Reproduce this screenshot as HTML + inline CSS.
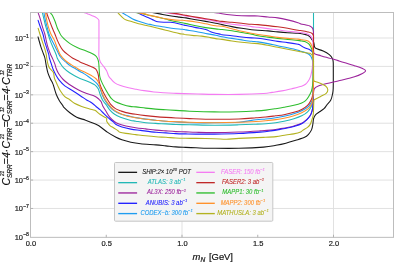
<!DOCTYPE html><html><head><meta charset="utf-8"><title>plot</title><style>
html,body{margin:0;padding:0;background:#fff;}body{width:407px;height:264px;overflow:hidden;}
svg{display:block;will-change:transform;filter:contrast(1);font-family:"Liberation Sans",sans-serif;}
.tk{font-size:7.5px;fill:#1a1a1a;stroke:#1a1a1a;stroke-width:0.18;}.sup{font-size:5.2px;}
.lg{font-size:6.3px;font-style:italic;text-anchor:middle;}.lg .sup{font-size:4.4px;}
.ax{font-size:9.4px;fill:#111;stroke:#111;stroke-width:0.2;}.axs{font-size:6.6px;}
.c{fill:none;stroke-width:1.08;stroke-linejoin:round;stroke-linecap:round;}
</style></head><body>
<svg width="407" height="264" viewBox="0 0 407 264">
<rect width="407" height="264" fill="#fff"/>
<defs><clipPath id="cp"><rect x="30.50" y="12.50" width="363.00" height="224.85"/></clipPath></defs>
<g stroke="#dedede" stroke-width="0.9" fill="none"><line x1="30.50" y1="38.00" x2="393.50" y2="38.00"/><line x1="30.50" y1="66.41" x2="393.50" y2="66.41"/><line x1="30.50" y1="94.82" x2="393.50" y2="94.82"/><line x1="30.50" y1="123.23" x2="393.50" y2="123.23"/><line x1="30.50" y1="151.64" x2="393.50" y2="151.64"/><line x1="30.50" y1="180.05" x2="393.50" y2="180.05"/><line x1="30.50" y1="208.46" x2="393.50" y2="208.46"/><line x1="182.00" y1="12.50" x2="182.00" y2="237.35"/><line x1="333.50" y1="12.50" x2="333.50" y2="237.35"/></g>
<g clip-path="url(#cp)">
<path class="c" stroke="#1a1a1a" d="M38.00,36.90 C38.10,37.25 38.12,37.35 38.60,39.00 C39.08,40.65 40.10,44.35 40.90,46.80 C41.70,49.25 42.73,51.83 43.40,53.70 C44.07,55.57 44.40,55.88 44.90,58.00 C45.40,60.12 45.90,63.93 46.40,66.40 C46.90,68.87 47.25,70.75 47.90,72.80 C48.55,74.85 49.48,76.90 50.30,78.70 C51.12,80.50 52.20,82.23 52.80,83.60 C53.40,84.97 53.30,85.03 53.90,86.90 C54.50,88.77 55.48,92.50 56.40,94.80 C57.32,97.10 58.33,98.90 59.40,100.70 C60.47,102.50 62.05,104.48 62.80,105.60 C63.55,106.72 62.72,106.20 63.90,107.40 C65.08,108.60 67.77,111.17 69.90,112.80 C72.03,114.43 74.08,115.97 76.70,117.20 C79.32,118.43 82.80,119.20 85.60,120.20 C88.40,121.20 91.28,122.27 93.50,123.20 C95.72,124.13 96.53,124.27 98.90,125.80 C101.27,127.33 104.85,130.48 107.70,132.40 C110.55,134.32 113.63,136.07 116.00,137.30 C118.37,138.53 119.43,138.98 121.90,139.80 C124.37,140.62 127.68,141.55 130.80,142.20 C133.92,142.85 136.40,143.25 140.60,143.70 C144.80,144.15 151.78,144.53 156.00,144.90 C160.22,145.27 162.62,145.57 165.90,145.90 C169.18,146.23 172.42,146.65 175.70,146.90 C178.98,147.15 182.22,147.25 185.60,147.40 C188.98,147.55 191.22,147.65 196.00,147.80 C200.78,147.95 207.15,148.22 214.30,148.30 C221.45,148.38 230.70,148.50 238.90,148.30 C247.10,148.10 257.32,147.60 263.50,147.10 C269.68,146.60 272.27,145.95 276.00,145.30 C279.73,144.65 282.62,144.03 285.90,143.20 C289.18,142.37 292.58,141.28 295.70,140.30 C298.82,139.32 302.47,138.30 304.60,137.30 C306.73,136.30 307.35,135.53 308.50,134.30 C309.65,133.07 310.78,131.53 311.50,129.90 C312.22,128.27 312.45,126.37 312.80,124.50 C313.15,122.63 313.15,120.32 313.60,118.70 C314.05,117.08 314.52,115.95 315.50,114.80 C316.48,113.65 318.08,112.83 319.50,111.80 C320.92,110.77 322.77,109.75 324.00,108.60 C325.23,107.45 325.77,106.33 326.90,104.90 C328.03,103.47 329.88,101.72 330.80,100.00 C331.72,98.28 332.00,96.53 332.40,94.60 C332.80,92.67 333.05,92.50 333.20,88.40 C333.35,84.30 333.30,74.40 333.30,70.00 C333.30,65.60 333.35,63.93 333.20,62.00 C333.05,60.07 333.05,59.62 332.40,58.40 C331.75,57.18 330.83,55.92 329.30,54.70 C327.77,53.48 325.47,52.17 323.20,51.10 C320.93,50.03 317.17,49.12 315.70,48.30 C314.23,47.48 314.67,46.92 314.40,46.20 C314.13,45.48 314.28,44.78 314.10,44.00 C313.92,43.22 313.68,42.25 313.30,41.50 C312.92,40.75 312.30,40.22 311.80,39.50 C311.30,38.78 310.97,37.92 310.30,37.20 C309.63,36.48 308.87,35.70 307.80,35.20 C306.73,34.70 305.53,34.53 303.90,34.20 C302.27,33.87 300.72,33.45 298.00,33.20 C295.28,32.95 290.98,32.92 287.60,32.70 C284.22,32.48 280.98,32.20 277.70,31.90 C274.42,31.60 271.18,31.17 267.90,30.90 C264.62,30.63 260.72,30.50 258.00,30.30 C255.28,30.10 254.32,30.03 251.60,29.70 C248.88,29.37 244.98,28.82 241.70,28.30 C238.42,27.78 235.18,27.22 231.90,26.60 C228.62,25.98 224.72,25.15 222.00,24.60 C219.28,24.05 218.32,23.83 215.60,23.30 C212.88,22.77 208.98,22.00 205.70,21.40 C202.42,20.80 199.18,20.28 195.90,19.70 C192.62,19.12 188.72,18.33 186.00,17.90 C183.28,17.47 182.32,17.47 179.60,17.10 C176.88,16.73 172.98,16.23 169.70,15.70 C166.42,15.17 163.02,14.48 159.90,13.90 C156.78,13.32 154.32,12.82 151.00,12.20 C147.68,11.58 141.83,10.53 140.00,10.20"/>
<path class="c" stroke="#22b8b6" d="M41.90,8.00 C41.98,8.75 42.07,10.68 42.40,12.50 C42.73,14.32 43.33,16.53 43.90,18.90 C44.47,21.27 45.10,24.18 45.80,26.70 C46.50,29.22 47.35,31.63 48.10,34.00 C48.85,36.37 49.45,38.60 50.30,40.90 C51.15,43.20 52.22,45.50 53.20,47.80 C54.18,50.10 55.53,53.00 56.20,54.70 C56.87,56.40 56.62,56.72 57.20,58.00 C57.78,59.28 58.63,60.75 59.70,62.40 C60.77,64.05 61.95,66.17 63.60,67.90 C65.25,69.63 67.62,71.42 69.60,72.80 C71.58,74.18 73.77,75.27 75.50,76.20 C77.23,77.13 77.93,77.53 80.00,78.40 C82.07,79.27 85.43,80.32 87.90,81.40 C90.37,82.48 93.08,83.67 94.80,84.90 C96.52,86.13 97.30,87.17 98.20,88.80 C99.10,90.43 99.45,92.78 100.20,94.70 C100.95,96.62 101.68,98.60 102.70,100.30 C103.72,102.00 105.13,103.30 106.30,104.90 C107.47,106.50 108.32,108.33 109.70,109.90 C111.08,111.47 112.80,113.08 114.60,114.30 C116.40,115.52 117.93,116.22 120.50,117.20 C123.07,118.18 127.43,119.53 130.00,120.20 C132.57,120.87 133.28,120.78 135.90,121.20 C138.52,121.62 142.42,122.33 145.70,122.70 C148.98,123.07 152.22,123.20 155.60,123.40 C158.98,123.60 162.62,123.72 166.00,123.90 C169.38,124.08 171.97,124.37 175.90,124.50 C179.83,124.63 183.20,124.58 189.60,124.70 C196.00,124.82 206.08,125.18 214.30,125.20 C222.52,125.22 231.95,124.97 238.90,124.80 C245.85,124.63 251.50,124.38 256.00,124.20 C260.50,124.02 262.62,123.95 265.90,123.70 C269.18,123.45 272.68,123.12 275.70,122.70 C278.72,122.28 280.97,121.87 284.00,121.20 C287.03,120.53 290.95,119.60 293.90,118.70 C296.85,117.80 299.42,116.95 301.70,115.80 C303.98,114.65 306.03,113.28 307.60,111.80 C309.17,110.32 310.27,108.53 311.10,106.90 C311.93,105.27 312.27,103.48 312.60,102.00 C312.93,100.52 312.97,100.00 313.10,98.00 C313.23,96.00 313.33,98.00 313.40,90.00 C313.47,82.00 313.48,64.17 313.50,50.00 C313.52,35.83 313.50,12.50 313.50,5.00"/>
<path class="c" stroke="#9c249c" d="M37.60,8.00 C37.68,8.75 37.72,10.85 38.10,12.50 C38.48,14.15 39.18,15.53 39.90,17.90 C40.62,20.27 41.58,24.02 42.40,26.70 C43.22,29.38 44.15,31.63 44.80,34.00 C45.45,36.37 45.80,38.77 46.30,40.90 C46.80,43.03 47.13,44.67 47.80,46.80 C48.47,48.93 49.55,51.83 50.30,53.70 C51.05,55.57 51.55,56.30 52.30,58.00 C53.05,59.70 54.13,62.10 54.80,63.90 C55.47,65.70 55.65,67.15 56.30,68.80 C56.95,70.45 57.55,72.02 58.70,73.80 C59.85,75.58 61.48,77.77 63.20,79.50 C64.92,81.23 66.43,82.47 69.00,84.20 C71.57,85.93 75.65,88.35 78.60,89.90 C81.55,91.45 84.00,92.45 86.70,93.50 C89.40,94.55 92.75,95.23 94.80,96.20 C96.85,97.17 97.93,98.37 99.00,99.30 C100.07,100.23 100.57,100.70 101.20,101.80 C101.83,102.90 101.95,104.23 102.80,105.90 C103.65,107.57 105.15,109.92 106.30,111.80 C107.45,113.68 108.32,115.55 109.70,117.20 C111.08,118.85 113.05,120.57 114.60,121.70 C116.15,122.83 117.12,123.28 119.00,124.00 C120.88,124.72 123.12,125.38 125.90,126.00 C128.68,126.62 132.42,127.22 135.70,127.70 C138.98,128.18 142.22,128.50 145.60,128.90 C148.98,129.30 152.62,129.77 156.00,130.10 C159.38,130.43 162.62,130.65 165.90,130.90 C169.18,131.15 172.42,131.43 175.70,131.60 C178.98,131.77 182.22,131.78 185.60,131.90 C188.98,132.02 191.22,132.18 196.00,132.30 C200.78,132.42 207.15,132.65 214.30,132.60 C221.45,132.55 231.28,132.28 238.90,132.00 C246.52,131.72 254.68,131.22 260.00,130.90 C265.32,130.58 267.37,130.48 270.80,130.10 C274.23,129.72 277.65,129.08 280.60,128.60 C283.55,128.12 286.28,127.65 288.50,127.20 C290.72,126.75 291.70,126.55 293.90,125.90 C296.10,125.25 299.57,124.35 301.70,123.30 C303.83,122.25 305.30,120.85 306.70,119.60 C308.10,118.35 309.20,117.27 310.10,115.80 C311.00,114.33 311.63,112.45 312.10,110.80 C312.57,109.15 312.70,108.03 312.90,105.90 C313.10,103.77 313.18,100.30 313.30,98.00 C313.42,95.70 313.38,93.70 313.60,92.10 C313.82,90.50 313.82,89.42 314.60,88.40 C315.38,87.38 316.25,86.82 318.30,86.00 C320.35,85.18 323.32,84.42 326.90,83.50 C330.48,82.58 335.20,81.62 339.80,80.50 C344.40,79.38 350.82,77.92 354.50,76.80 C358.18,75.68 360.05,74.80 361.90,73.80 C363.75,72.80 365.60,71.72 365.60,70.80 C365.60,69.88 363.75,69.15 361.90,68.30 C360.05,67.45 358.18,66.88 354.50,65.70 C350.82,64.52 343.38,62.32 339.80,61.20 C336.22,60.08 335.47,59.68 333.00,59.00 C330.53,58.32 327.05,57.65 325.00,57.10 C322.95,56.55 322.37,56.23 320.70,55.70 C319.03,55.17 316.17,54.43 315.00,53.90 C313.83,53.37 313.95,53.48 313.70,52.50 C313.45,51.52 313.53,51.13 313.50,48.00 C313.47,44.87 313.55,36.65 313.50,33.70 C313.45,30.75 313.40,31.28 313.20,30.30 C313.00,29.32 312.87,28.52 312.30,27.80 C311.73,27.08 310.87,26.47 309.80,26.00 C308.73,25.53 307.38,25.35 305.90,25.00 C304.42,24.65 302.22,24.28 300.90,23.90 C299.58,23.52 300.22,23.37 298.00,22.70 C295.78,22.03 290.98,20.70 287.60,19.90 C284.22,19.10 280.98,18.38 277.70,17.90 C274.42,17.42 271.18,17.32 267.90,17.00 C264.62,16.68 260.72,16.18 258.00,16.00 C255.28,15.82 254.32,15.95 251.60,15.90 C248.88,15.85 244.98,15.85 241.70,15.70 C238.42,15.55 235.18,15.32 231.90,15.00 C228.62,14.68 224.23,14.13 222.00,13.80 C219.77,13.47 220.15,13.27 218.50,13.00 C216.85,12.73 214.35,12.53 212.10,12.20 C209.85,11.87 206.18,11.20 205.00,11.00"/>
<path class="c" stroke="#2222ff" d="M38.10,20.30 C38.40,21.22 39.10,23.52 39.90,25.80 C40.70,28.08 42.08,31.32 42.90,34.00 C43.72,36.68 44.07,39.27 44.80,41.90 C45.53,44.53 46.63,47.67 47.30,49.80 C47.97,51.93 48.45,53.33 48.80,54.70 C49.15,56.07 48.98,56.47 49.40,58.00 C49.82,59.53 50.65,61.93 51.30,63.90 C51.95,65.87 52.47,67.83 53.30,69.80 C54.13,71.77 55.28,73.93 56.30,75.70 C57.32,77.47 57.98,78.70 59.40,80.40 C60.82,82.10 62.58,84.17 64.80,85.90 C67.02,87.63 70.12,89.17 72.70,90.80 C75.28,92.43 77.98,94.17 80.30,95.70 C82.62,97.23 84.98,98.98 86.60,100.00 C88.22,101.02 88.85,101.08 90.00,101.80 C91.15,102.52 92.50,103.52 93.50,104.30 C94.50,105.08 94.92,105.60 96.00,106.50 C97.08,107.40 98.87,108.70 100.00,109.70 C101.13,110.70 101.35,111.08 102.80,112.50 C104.25,113.92 106.90,116.58 108.70,118.20 C110.50,119.82 112.38,121.15 113.60,122.20 C114.82,123.25 114.62,123.70 116.00,124.50 C117.38,125.30 119.43,126.23 121.90,127.00 C124.37,127.77 127.68,128.53 130.80,129.10 C133.92,129.67 136.40,129.87 140.60,130.40 C144.80,130.93 151.78,131.88 156.00,132.30 C160.22,132.72 162.62,132.68 165.90,132.90 C169.18,133.12 172.42,133.43 175.70,133.60 C178.98,133.77 182.22,133.82 185.60,133.90 C188.98,133.98 191.22,134.07 196.00,134.10 C200.78,134.13 207.15,134.20 214.30,134.10 C221.45,134.00 231.28,133.83 238.90,133.50 C246.52,133.17 254.68,132.53 260.00,132.10 C265.32,131.67 267.37,131.37 270.80,130.90 C274.23,130.43 277.65,129.82 280.60,129.30 C283.55,128.78 286.28,128.27 288.50,127.80 C290.72,127.33 291.70,127.18 293.90,126.50 C296.10,125.82 299.57,124.82 301.70,123.70 C303.83,122.58 305.30,121.12 306.70,119.80 C308.10,118.48 309.20,117.30 310.10,115.80 C311.00,114.30 311.63,112.45 312.10,110.80 C312.57,109.15 312.70,107.70 312.90,105.90 C313.10,104.10 313.22,104.32 313.30,100.00 C313.38,95.68 313.38,87.00 313.40,80.00 C313.42,73.00 313.42,62.00 313.40,58.00 C313.38,54.00 313.38,56.70 313.30,56.00 C313.22,55.30 313.07,54.50 312.90,53.80 C312.73,53.10 312.82,52.47 312.30,51.80 C311.78,51.13 310.87,50.38 309.80,49.80 C308.73,49.22 307.05,48.78 305.90,48.30 C304.75,47.82 303.90,47.47 302.90,46.90 C301.90,46.33 300.72,45.33 299.90,44.90 C299.08,44.47 300.05,44.68 298.00,44.30 C295.95,43.92 290.98,43.08 287.60,42.60 C284.22,42.12 280.98,41.88 277.70,41.40 C274.42,40.92 271.18,40.22 267.90,39.70 C264.62,39.18 260.72,38.60 258.00,38.30 C255.28,38.00 254.32,38.12 251.60,37.90 C248.88,37.68 244.98,37.35 241.70,37.00 C238.42,36.65 235.18,36.18 231.90,35.80 C228.62,35.42 223.90,34.97 222.00,34.70 C220.10,34.43 221.57,34.45 220.50,34.20 C219.43,33.95 217.25,33.62 215.60,33.20 C213.95,32.78 212.25,32.32 210.60,31.70 C208.95,31.08 208.15,30.18 205.70,29.50 C203.25,28.82 199.18,28.27 195.90,27.60 C192.62,26.93 188.23,25.97 186.00,25.50 C183.77,25.03 184.40,25.25 182.50,24.80 C180.60,24.35 176.73,23.22 174.60,22.80 C172.47,22.38 171.50,22.38 169.70,22.30 C167.90,22.22 165.77,22.38 163.80,22.30 C161.83,22.22 159.55,22.13 157.90,21.80 C156.25,21.47 155.22,20.87 153.90,20.30 C152.58,19.73 151.40,19.05 150.00,18.40 C148.60,17.75 147.32,17.23 145.50,16.40 C143.68,15.57 140.48,14.10 139.10,13.40 C137.72,12.70 138.05,12.77 137.20,12.20 C136.35,11.63 134.53,10.37 134.00,10.00"/>
<path class="c" stroke="#1e9cf0" d="M43.40,8.00 C43.48,8.75 43.58,10.52 43.90,12.50 C44.22,14.48 44.73,17.37 45.30,19.90 C45.87,22.43 46.68,25.35 47.30,27.70 C47.92,30.05 48.27,31.97 49.00,34.00 C49.73,36.03 50.67,37.77 51.70,39.90 C52.73,42.03 54.05,44.50 55.20,46.80 C56.35,49.10 57.80,52.13 58.60,53.70 C59.40,55.27 59.35,55.28 60.00,56.20 C60.65,57.12 61.57,58.25 62.50,59.20 C63.43,60.15 64.27,60.78 65.60,61.90 C66.93,63.02 68.85,64.75 70.50,65.90 C72.15,67.05 73.92,67.87 75.50,68.80 C77.08,69.73 78.60,70.70 80.00,71.50 C81.40,72.30 82.67,72.87 83.90,73.60 C85.13,74.33 85.92,74.85 87.40,75.90 C88.88,76.95 91.17,78.57 92.80,79.90 C94.43,81.23 96.05,82.58 97.20,83.90 C98.35,85.22 98.87,86.00 99.70,87.80 C100.53,89.60 101.33,92.62 102.20,94.70 C103.07,96.78 103.90,98.60 104.90,100.30 C105.90,102.00 106.98,103.38 108.20,104.90 C109.42,106.42 110.63,108.08 112.20,109.40 C113.77,110.72 115.72,111.90 117.60,112.80 C119.48,113.70 121.43,114.22 123.50,114.80 C125.57,115.38 127.93,115.83 130.00,116.30 C132.07,116.77 133.28,117.13 135.90,117.60 C138.52,118.07 142.42,118.67 145.70,119.10 C148.98,119.53 152.22,119.83 155.60,120.20 C158.98,120.57 162.62,121.02 166.00,121.30 C169.38,121.58 171.97,121.67 175.90,121.90 C179.83,122.13 183.20,122.55 189.60,122.70 C196.00,122.85 206.08,122.88 214.30,122.80 C222.52,122.72 231.95,122.70 238.90,122.20 C245.85,121.70 251.50,120.33 256.00,119.80 C260.50,119.27 262.62,119.33 265.90,119.00 C269.18,118.67 272.68,118.25 275.70,117.80 C278.72,117.35 280.97,116.97 284.00,116.30 C287.03,115.63 290.95,114.72 293.90,113.80 C296.85,112.88 299.25,112.03 301.70,110.80 C304.15,109.57 306.87,108.12 308.60,106.40 C310.33,104.68 311.38,102.57 312.10,100.50 C312.82,98.43 312.72,96.58 312.90,94.00 C313.08,91.42 313.15,89.67 313.20,85.00 C313.25,80.33 313.25,69.83 313.20,66.00 C313.15,62.17 313.05,63.05 312.90,62.00 C312.75,60.95 312.65,60.67 312.30,59.70 C311.95,58.73 311.38,57.10 310.80,56.20 C310.22,55.30 309.62,54.87 308.80,54.30 C307.98,53.73 307.22,53.30 305.90,52.80 C304.58,52.30 302.22,51.73 300.90,51.30 C299.58,50.87 300.22,50.78 298.00,50.20 C295.78,49.62 290.98,48.53 287.60,47.80 C284.22,47.07 280.98,46.50 277.70,45.80 C274.42,45.10 271.18,44.25 267.90,43.60 C264.62,42.95 260.72,42.28 258.00,41.90 C255.28,41.52 254.32,41.63 251.60,41.30 C248.88,40.97 244.98,40.38 241.70,39.90 C238.42,39.42 235.18,38.93 231.90,38.40 C228.62,37.87 224.72,37.23 222.00,36.70 C219.28,36.17 218.32,35.73 215.60,35.20 C212.88,34.67 208.98,34.12 205.70,33.50 C202.42,32.88 199.18,32.10 195.90,31.50 C192.62,30.90 188.23,30.28 186.00,29.90 C183.77,29.52 184.57,29.43 182.50,29.20 C180.43,28.97 176.38,28.83 173.60,28.50 C170.82,28.17 168.42,27.62 165.80,27.20 C163.18,26.78 160.53,26.47 157.90,26.00 C155.27,25.53 151.90,24.77 150.00,24.40 C148.10,24.03 148.40,24.32 146.50,23.80 C144.60,23.28 140.90,22.12 138.60,21.30 C136.30,20.48 134.67,19.88 132.70,18.90 C130.73,17.92 128.68,16.52 126.80,15.40 C124.92,14.28 122.87,13.13 121.40,12.20 C119.93,11.27 118.57,10.20 118.00,9.80"/>
<path class="c" stroke="#f47cf2" d="M78.00,10.00 C78.90,10.37 81.77,11.55 83.40,12.20 C85.03,12.85 86.25,13.28 87.80,13.90 C89.35,14.52 91.22,15.23 92.70,15.90 C94.18,16.57 95.70,17.23 96.70,17.90 C97.70,18.57 98.33,19.08 98.70,19.90 C99.08,20.72 98.91,20.12 98.95,22.80 C98.99,25.48 98.96,31.47 98.95,36.00 C98.94,40.53 98.91,46.68 98.90,50.00 C98.89,53.32 98.68,53.93 98.90,55.90 C99.12,57.87 99.42,60.07 100.20,61.80 C100.98,63.53 102.53,64.82 103.60,66.30 C104.67,67.78 105.77,69.10 106.60,70.70 C107.43,72.30 107.88,74.53 108.60,75.90 C109.32,77.27 109.87,77.73 110.90,78.90 C111.93,80.07 113.32,81.83 114.80,82.90 C116.28,83.97 117.50,84.48 119.80,85.30 C122.10,86.12 125.82,87.13 128.60,87.80 C131.38,88.47 133.93,88.83 136.50,89.30 C139.07,89.77 141.10,90.15 144.00,90.60 C146.90,91.05 150.62,91.63 153.90,92.00 C157.18,92.37 160.42,92.58 163.70,92.80 C166.98,93.02 170.22,93.17 173.60,93.30 C176.98,93.43 179.93,93.48 184.00,93.60 C188.07,93.72 192.95,93.87 198.00,94.00 C203.05,94.13 207.48,94.33 214.30,94.40 C221.12,94.47 230.70,94.55 238.90,94.40 C247.10,94.25 257.98,93.83 263.50,93.50 C269.02,93.17 268.93,92.83 272.00,92.40 C275.07,91.97 278.62,91.52 281.90,90.90 C285.18,90.28 288.42,89.48 291.70,88.70 C294.98,87.92 299.30,86.93 301.60,86.20 C303.90,85.47 304.35,85.20 305.50,84.30 C306.65,83.40 307.68,82.03 308.50,80.80 C309.32,79.57 309.92,78.22 310.40,76.90 C310.88,75.58 311.08,74.38 311.40,72.90 C311.72,71.42 312.07,70.15 312.30,68.00 C312.53,65.85 312.67,62.67 312.80,60.00 C312.93,57.33 313.07,54.92 313.10,52.00 C313.13,49.08 313.08,44.53 313.00,42.50 C312.92,40.47 312.80,40.62 312.60,39.80 C312.40,38.98 312.27,38.37 311.80,37.60 C311.33,36.83 310.63,35.85 309.80,35.20 C308.97,34.55 308.12,34.12 306.80,33.70 C305.48,33.28 303.37,32.95 301.90,32.70 C300.43,32.45 300.38,32.45 298.00,32.20 C295.62,31.95 290.98,31.60 287.60,31.20 C284.22,30.80 280.98,30.23 277.70,29.80 C274.42,29.37 271.18,29.02 267.90,28.60 C264.62,28.18 260.72,27.63 258.00,27.30 C255.28,26.97 254.32,26.93 251.60,26.60 C248.88,26.27 244.98,25.68 241.70,25.30 C238.42,24.92 235.18,24.72 231.90,24.30 C228.62,23.88 224.72,23.28 222.00,22.80 C219.28,22.32 218.32,21.97 215.60,21.40 C212.88,20.83 208.98,20.02 205.70,19.40 C202.42,18.78 199.18,18.27 195.90,17.70 C192.62,17.13 188.23,16.40 186.00,16.00 C183.77,15.60 184.40,15.63 182.50,15.30 C180.60,14.97 177.38,14.43 174.60,14.00 C171.82,13.57 169.07,13.17 165.80,12.70 C162.53,12.23 156.80,11.45 155.00,11.20"/>
<path class="c" stroke="#c02828" d="M46.10,8.00 C46.18,8.75 46.15,10.68 46.60,12.50 C47.05,14.32 47.87,16.37 48.80,18.90 C49.73,21.43 51.18,25.18 52.20,27.70 C53.22,30.22 54.00,31.80 54.90,34.00 C55.80,36.20 56.75,38.95 57.60,40.90 C58.45,42.85 59.10,44.13 60.00,45.70 C60.90,47.27 61.68,48.80 63.00,50.30 C64.32,51.80 66.27,53.38 67.90,54.70 C69.53,56.02 71.00,57.13 72.80,58.20 C74.60,59.27 77.50,60.47 78.70,61.10 C79.90,61.73 78.63,61.38 80.00,62.00 C81.37,62.62 84.77,63.93 86.90,64.80 C89.03,65.67 91.32,66.47 92.80,67.20 C94.28,67.93 94.98,68.28 95.80,69.20 C96.62,70.12 97.25,71.57 97.70,72.70 C98.15,73.83 98.25,74.47 98.50,76.00 C98.75,77.53 98.75,79.93 99.20,81.90 C99.65,83.87 100.30,85.67 101.20,87.80 C102.10,89.93 103.48,92.62 104.60,94.70 C105.72,96.78 106.88,98.68 107.90,100.30 C108.92,101.92 109.50,103.05 110.70,104.40 C111.90,105.75 113.47,107.33 115.10,108.40 C116.73,109.47 118.68,110.10 120.50,110.80 C122.32,111.50 123.43,112.02 126.00,112.60 C128.57,113.18 132.62,113.80 135.90,114.30 C139.18,114.80 142.42,115.22 145.70,115.60 C148.98,115.98 152.22,116.30 155.60,116.60 C158.98,116.90 162.62,117.17 166.00,117.40 C169.38,117.63 171.97,117.80 175.90,118.00 C179.83,118.20 183.20,118.38 189.60,118.60 C196.00,118.82 206.08,119.23 214.30,119.30 C222.52,119.37 231.95,119.25 238.90,119.00 C245.85,118.75 251.50,118.13 256.00,117.80 C260.50,117.47 262.62,117.33 265.90,117.00 C269.18,116.67 272.68,116.18 275.70,115.80 C278.72,115.42 280.97,115.28 284.00,114.70 C287.03,114.12 290.95,113.18 293.90,112.30 C296.85,111.42 299.42,110.55 301.70,109.40 C303.98,108.25 306.03,106.97 307.60,105.40 C309.17,103.83 310.25,101.73 311.10,100.00 C311.95,98.27 312.33,96.67 312.70,95.00 C313.07,93.33 313.17,95.83 313.30,90.00 C313.43,84.17 313.47,68.73 313.50,60.00 C313.53,51.27 313.55,41.73 313.50,37.60 C313.45,33.47 313.48,35.93 313.20,35.20 C312.92,34.47 312.70,33.75 311.80,33.20 C310.90,32.65 309.45,32.32 307.80,31.90 C306.15,31.48 303.53,30.97 301.90,30.70 C300.27,30.43 300.38,30.70 298.00,30.30 C295.62,29.90 290.98,28.88 287.60,28.30 C284.22,27.72 280.98,27.25 277.70,26.80 C274.42,26.35 271.18,25.97 267.90,25.60 C264.62,25.23 260.72,24.82 258.00,24.60 C255.28,24.38 254.32,24.52 251.60,24.30 C248.88,24.08 244.98,23.63 241.70,23.30 C238.42,22.97 235.18,22.62 231.90,22.30 C228.62,21.98 224.72,21.72 222.00,21.40 C219.28,21.08 218.32,20.85 215.60,20.40 C212.88,19.95 208.98,19.25 205.70,18.70 C202.42,18.15 199.18,17.65 195.90,17.10 C192.62,16.55 188.23,15.80 186.00,15.40 C183.77,15.00 184.40,15.03 182.50,14.70 C180.60,14.37 177.38,13.82 174.60,13.40 C171.82,12.98 169.07,12.65 165.80,12.20 C162.53,11.75 156.80,10.95 155.00,10.70"/>
<path class="c" stroke="#2dbd2d" d="M49.80,8.00 C49.88,8.75 49.82,11.18 50.30,12.50 C50.78,13.82 51.88,14.35 52.70,15.90 C53.52,17.45 54.45,19.83 55.20,21.80 C55.95,23.77 56.47,25.88 57.20,27.70 C57.93,29.52 58.92,31.35 59.60,32.70 C60.28,34.05 60.52,34.75 61.30,35.80 C62.08,36.85 62.85,37.70 64.30,39.00 C65.75,40.30 67.77,42.13 70.00,43.60 C72.23,45.07 75.10,46.60 77.70,47.80 C80.30,49.00 83.30,49.90 85.60,50.80 C87.90,51.70 89.85,52.38 91.50,53.20 C93.15,54.02 94.47,54.75 95.50,55.70 C96.53,56.65 97.17,57.72 97.70,58.90 C98.23,60.08 98.45,61.00 98.70,62.80 C98.95,64.60 99.03,67.50 99.20,69.70 C99.37,71.90 99.37,74.13 99.70,76.00 C100.03,77.87 100.38,78.93 101.20,80.90 C102.02,82.87 103.45,85.67 104.60,87.80 C105.75,89.93 106.95,91.88 108.10,93.70 C109.25,95.52 110.27,97.35 111.50,98.70 C112.73,100.05 113.67,100.85 115.50,101.80 C117.33,102.75 120.08,103.63 122.50,104.40 C124.92,105.17 127.77,105.98 130.00,106.40 C132.23,106.82 133.28,106.62 135.90,106.90 C138.52,107.18 142.42,107.73 145.70,108.10 C148.98,108.47 152.22,108.82 155.60,109.10 C158.98,109.38 162.62,109.58 166.00,109.80 C169.38,110.02 171.97,110.17 175.90,110.40 C179.83,110.63 183.20,110.95 189.60,111.20 C196.00,111.45 206.08,111.82 214.30,111.90 C222.52,111.98 231.95,111.87 238.90,111.70 C245.85,111.53 251.50,111.17 256.00,110.90 C260.50,110.63 262.62,110.47 265.90,110.10 C269.18,109.73 272.68,109.17 275.70,108.70 C278.72,108.23 280.97,107.87 284.00,107.30 C287.03,106.73 290.95,106.03 293.90,105.30 C296.85,104.57 299.75,103.68 301.70,102.90 C303.65,102.12 304.48,101.58 305.60,100.60 C306.72,99.62 307.42,98.62 308.40,97.00 C309.38,95.38 310.77,93.15 311.50,90.90 C312.23,88.65 312.52,85.98 312.80,83.50 C313.08,81.02 313.13,80.25 313.20,76.00 C313.27,71.75 313.25,61.67 313.20,58.00 C313.15,54.33 313.05,55.20 312.90,54.00 C312.75,52.80 312.65,51.98 312.30,50.80 C311.95,49.62 311.38,48.05 310.80,46.90 C310.22,45.75 309.62,44.73 308.80,43.90 C307.98,43.07 307.05,42.38 305.90,41.90 C304.75,41.42 303.22,41.23 301.90,41.00 C300.58,40.77 300.38,40.77 298.00,40.50 C295.62,40.23 290.98,39.75 287.60,39.40 C284.22,39.05 280.98,38.77 277.70,38.40 C274.42,38.02 271.18,37.58 267.90,37.15 C264.62,36.72 260.72,36.30 258.00,35.80 C255.28,35.30 254.32,34.70 251.60,34.15 C248.88,33.60 244.98,33.07 241.70,32.50 C238.42,31.93 235.18,31.25 231.90,30.75 C228.62,30.25 224.72,29.81 222.00,29.50 C219.28,29.19 218.32,29.22 215.60,28.90 C212.88,28.58 208.98,28.12 205.70,27.60 C202.42,27.08 199.18,26.47 195.90,25.80 C192.62,25.13 188.72,24.18 186.00,23.60 C183.28,23.02 181.98,22.77 179.60,22.30 C177.22,21.83 174.00,21.33 171.70,20.80 C169.40,20.27 168.10,19.70 165.80,19.10 C163.50,18.50 160.53,17.80 157.90,17.20 C155.27,16.60 152.23,16.02 150.00,15.50 C147.77,14.98 146.33,14.52 144.50,14.10 C142.67,13.68 140.72,13.32 139.00,13.00 C137.28,12.68 136.03,12.57 134.20,12.20 C132.37,11.83 129.03,11.03 128.00,10.80"/>
<path class="c" stroke="#ff922c" d="M45.00,8.00 C45.08,8.75 45.28,10.85 45.50,12.50 C45.72,14.15 45.83,15.53 46.30,17.90 C46.77,20.27 47.53,24.02 48.30,26.70 C49.07,29.38 49.92,31.80 50.90,34.00 C51.88,36.20 53.15,37.60 54.20,39.90 C55.25,42.20 56.23,45.40 57.20,47.80 C58.17,50.20 59.03,52.57 60.00,54.30 C60.97,56.03 61.92,57.00 63.00,58.20 C64.08,59.40 65.08,60.38 66.50,61.50 C67.92,62.62 69.83,63.83 71.50,64.90 C73.17,65.97 75.08,67.05 76.50,67.90 C77.92,68.75 78.43,69.20 80.00,70.00 C81.57,70.80 83.93,71.73 85.90,72.70 C87.87,73.67 90.07,74.75 91.80,75.80 C93.53,76.85 95.15,77.82 96.30,79.00 C97.45,80.18 97.97,81.27 98.70,82.90 C99.43,84.53 99.95,86.67 100.70,88.80 C101.45,90.93 102.33,93.75 103.20,95.70 C104.07,97.65 104.98,99.05 105.90,100.50 C106.82,101.95 107.57,103.00 108.70,104.40 C109.83,105.80 111.05,107.50 112.70,108.90 C114.35,110.30 116.63,111.73 118.60,112.80 C120.57,113.87 122.60,114.65 124.50,115.30 C126.40,115.95 128.10,116.30 130.00,116.70 C131.90,117.10 133.28,117.28 135.90,117.70 C138.52,118.12 142.42,118.78 145.70,119.20 C148.98,119.62 152.22,119.87 155.60,120.20 C158.98,120.53 162.62,120.95 166.00,121.20 C169.38,121.45 171.97,121.52 175.90,121.70 C179.83,121.88 183.20,122.13 189.60,122.30 C196.00,122.47 206.08,122.70 214.30,122.70 C222.52,122.70 231.95,122.50 238.90,122.30 C245.85,122.10 251.50,121.77 256.00,121.50 C260.50,121.23 262.62,121.02 265.90,120.70 C269.18,120.38 272.68,120.02 275.70,119.60 C278.72,119.18 280.97,118.83 284.00,118.20 C287.03,117.57 290.95,116.70 293.90,115.80 C296.85,114.90 299.25,114.03 301.70,112.80 C304.15,111.57 306.95,109.88 308.60,108.40 C310.25,106.92 310.93,105.30 311.60,103.90 C312.27,102.50 312.33,101.65 312.60,100.00 C312.87,98.35 313.07,97.33 313.20,94.00 C313.33,90.67 313.37,86.00 313.40,80.00 C313.43,74.00 313.43,62.42 313.40,58.00 C313.37,53.58 313.28,54.70 313.20,53.50 C313.12,52.30 313.13,52.07 312.90,50.80 C312.67,49.53 312.32,47.30 311.80,45.90 C311.28,44.50 310.63,43.30 309.80,42.40 C308.97,41.50 308.12,40.93 306.80,40.50 C305.48,40.07 303.37,40.03 301.90,39.80 C300.43,39.57 300.38,39.33 298.00,39.10 C295.62,38.87 290.98,38.68 287.60,38.40 C284.22,38.12 280.98,37.82 277.70,37.40 C274.42,36.98 271.18,36.38 267.90,35.90 C264.62,35.42 260.72,34.93 258.00,34.50 C255.28,34.07 254.32,33.85 251.60,33.30 C248.88,32.75 244.98,31.97 241.70,31.20 C238.42,30.43 235.18,29.52 231.90,28.70 C228.62,27.88 224.72,26.78 222.00,26.30 C219.28,25.82 218.32,26.22 215.60,25.80 C212.88,25.38 208.98,24.43 205.70,23.80 C202.42,23.17 199.18,22.52 195.90,22.00 C192.62,21.48 188.23,20.98 186.00,20.70 C183.77,20.42 184.57,20.43 182.50,20.30 C180.43,20.17 176.38,20.13 173.60,19.90 C170.82,19.67 168.42,19.37 165.80,18.90 C163.18,18.43 160.53,17.68 157.90,17.10 C155.27,16.52 152.23,15.93 150.00,15.40 C147.77,14.87 146.72,14.38 144.50,13.90 C142.28,13.42 139.12,12.98 136.70,12.50 C134.28,12.02 131.12,11.25 130.00,11.00"/>
<path class="c" stroke="#b3b220" d="M38.10,28.20 C38.40,29.17 39.18,31.72 39.90,34.00 C40.62,36.28 41.58,39.43 42.40,41.90 C43.22,44.37 44.15,46.67 44.80,48.80 C45.45,50.93 45.98,53.17 46.30,54.70 C46.62,56.23 46.43,56.47 46.70,58.00 C46.97,59.53 47.45,62.25 47.90,63.90 C48.35,65.55 48.50,66.50 49.40,67.90 C50.30,69.30 52.48,70.67 53.30,72.30 C54.12,73.93 53.95,76.33 54.30,77.70 C54.65,79.07 54.88,79.30 55.40,80.50 C55.92,81.70 56.58,83.18 57.40,84.90 C58.22,86.62 59.07,88.83 60.30,90.80 C61.53,92.77 63.23,95.22 64.80,96.70 C66.37,98.18 68.10,98.60 69.70,99.70 C71.30,100.80 72.40,102.18 74.40,103.30 C76.40,104.42 79.17,105.47 81.70,106.40 C84.23,107.33 87.40,108.25 89.60,108.90 C91.80,109.55 93.18,109.40 94.90,110.30 C96.62,111.20 98.25,113.15 99.90,114.30 C101.55,115.45 103.67,116.55 104.80,117.20 C105.93,117.85 106.38,117.53 106.70,118.20 C107.02,118.87 106.45,120.30 106.70,121.20 C106.95,122.10 107.62,122.83 108.20,123.60 C108.78,124.37 109.45,125.18 110.20,125.80 C110.95,126.42 111.73,126.70 112.70,127.30 C113.67,127.90 115.12,128.83 116.00,129.40 C116.88,129.97 117.35,130.23 118.00,130.70 C118.65,131.17 118.58,131.75 119.90,132.20 C121.22,132.65 123.27,133.00 125.90,133.40 C128.53,133.80 132.42,134.20 135.70,134.60 C138.98,135.00 142.22,135.43 145.60,135.80 C148.98,136.17 152.62,136.55 156.00,136.80 C159.38,137.05 162.62,137.10 165.90,137.30 C169.18,137.50 172.42,137.83 175.70,138.00 C178.98,138.17 182.22,138.23 185.60,138.30 C188.98,138.37 191.22,138.33 196.00,138.40 C200.78,138.47 209.20,138.57 214.30,138.70 C219.40,138.83 222.50,139.25 226.60,139.20 C230.70,139.15 232.75,138.70 238.90,138.40 C245.05,138.10 257.32,137.70 263.50,137.40 C269.68,137.10 272.27,137.00 276.00,136.60 C279.73,136.20 282.95,135.45 285.90,135.00 C288.85,134.55 291.25,134.38 293.70,133.90 C296.15,133.42 299.12,132.68 300.60,132.10 C302.08,131.52 301.45,131.18 302.60,130.40 C303.75,129.62 306.23,128.40 307.50,127.40 C308.77,126.40 309.52,125.52 310.20,124.40 C310.88,123.28 311.10,122.30 311.60,120.70 C312.10,119.10 312.87,116.93 313.20,114.80 C313.53,112.67 313.48,110.23 313.60,107.90 C313.72,105.57 313.63,102.25 313.90,100.80 C314.17,99.35 314.07,99.93 315.20,99.20 C316.33,98.47 318.87,97.38 320.70,96.40 C322.53,95.42 325.02,94.42 326.20,93.30 C327.38,92.18 327.90,90.92 327.80,89.70 C327.70,88.48 326.98,87.13 325.60,86.00 C324.22,84.87 321.23,83.63 319.50,82.90 C317.77,82.17 316.15,82.03 315.20,81.60 C314.25,81.17 314.07,81.23 313.80,80.30 C313.53,79.37 313.65,79.30 313.60,76.00 C313.55,72.70 313.62,63.55 313.50,60.50 C313.38,57.45 313.18,58.67 312.90,57.70 C312.62,56.73 312.32,55.43 311.80,54.70 C311.28,53.97 310.78,53.62 309.80,53.30 C308.82,52.98 307.38,53.05 305.90,52.80 C304.42,52.55 302.22,52.07 300.90,51.80 C299.58,51.53 300.22,51.63 298.00,51.20 C295.78,50.77 290.98,49.85 287.60,49.20 C284.22,48.55 280.98,47.95 277.70,47.30 C274.42,46.65 271.18,45.92 267.90,45.30 C264.62,44.68 260.72,43.93 258.00,43.60 C255.28,43.27 254.32,43.52 251.60,43.30 C248.88,43.08 244.98,42.68 241.70,42.30 C238.42,41.92 235.18,41.48 231.90,41.00 C228.62,40.52 224.72,39.80 222.00,39.40 C219.28,39.00 217.50,38.90 215.60,38.60 C213.70,38.30 212.90,38.02 210.60,37.60 C208.30,37.18 204.58,36.43 201.80,36.10 C199.02,35.77 196.53,35.82 193.90,35.60 C191.27,35.38 187.73,35.05 186.00,34.80 C184.27,34.55 184.57,34.30 183.50,34.10 C182.43,33.90 181.25,33.92 179.60,33.60 C177.95,33.28 175.90,32.77 173.60,32.20 C171.30,31.63 168.42,30.87 165.80,30.20 C163.18,29.53 160.53,28.85 157.90,28.20 C155.27,27.55 151.73,26.72 150.00,26.30 C148.27,25.88 149.40,26.12 147.50,25.70 C145.60,25.28 141.40,24.53 138.60,23.80 C135.80,23.07 133.00,22.03 130.70,21.30 C128.40,20.57 126.43,20.30 124.80,19.40 C123.17,18.50 122.13,17.10 120.90,15.90 C119.67,14.70 118.33,13.27 117.40,12.20 C116.47,11.13 115.65,9.95 115.30,9.50"/>
</g>
<rect x="30.50" y="12.50" width="363.00" height="224.85" fill="none" stroke="#bdbdbd" stroke-width="1"/>
<g stroke="#b2b2b2" stroke-width="1" fill="none"><line x1="30.50" y1="38.00" x2="33.10" y2="38.00"/><line x1="30.50" y1="66.41" x2="33.10" y2="66.41"/><line x1="30.50" y1="94.82" x2="33.10" y2="94.82"/><line x1="30.50" y1="123.23" x2="33.10" y2="123.23"/><line x1="30.50" y1="151.64" x2="33.10" y2="151.64"/><line x1="30.50" y1="180.05" x2="33.10" y2="180.05"/><line x1="30.50" y1="208.46" x2="33.10" y2="208.46"/><line x1="106.25" y1="237.35" x2="106.25" y2="234.75"/><line x1="182.00" y1="237.35" x2="182.00" y2="234.75"/><line x1="257.75" y1="237.35" x2="257.75" y2="234.75"/><line x1="333.50" y1="237.35" x2="333.50" y2="234.75"/></g>
<text class="tk" x="23" y="40.90" text-anchor="end">10</text><text class="tk sup" x="23.1" y="37.60">−1</text>
<text class="tk" x="23" y="69.31" text-anchor="end">10</text><text class="tk sup" x="23.1" y="66.01">−2</text>
<text class="tk" x="23" y="97.72" text-anchor="end">10</text><text class="tk sup" x="23.1" y="94.42">−3</text>
<text class="tk" x="23" y="126.13" text-anchor="end">10</text><text class="tk sup" x="23.1" y="122.83">−4</text>
<text class="tk" x="23" y="154.54" text-anchor="end">10</text><text class="tk sup" x="23.1" y="151.24">−5</text>
<text class="tk" x="23" y="182.95" text-anchor="end">10</text><text class="tk sup" x="23.1" y="179.65">−6</text>
<text class="tk" x="23" y="211.36" text-anchor="end">10</text><text class="tk sup" x="23.1" y="208.06">−7</text>
<text class="tk" x="23" y="239.77" text-anchor="end">10</text><text class="tk sup" x="23.1" y="236.47">−8</text>
<text class="tk" x="30.90" y="246.2" text-anchor="middle">0.0</text>
<text class="tk" x="106.65" y="246.2" text-anchor="middle">0.5</text>
<text class="tk" x="182.40" y="246.2" text-anchor="middle">1.0</text>
<text class="tk" x="258.15" y="246.2" text-anchor="middle">1.5</text>
<text class="tk" x="333.90" y="246.2" text-anchor="middle">2.0</text>
<text class="ax" x="192.6" y="260.3"><tspan font-style="italic">m</tspan><tspan class="axs" font-style="italic" dy="1.4">N</tspan><tspan dy="-1.4" dx="1.2"> [GeV]</tspan></text>
<g transform="rotate(-90)" font-style="italic" fill="#111" stroke="#111" stroke-width="0.14"><text x="-185.60" y="9.80" font-size="10.60px">C</text><text x="-178.10" y="12.30" font-size="6.50px">SRR</text><text x="-176.10" y="3.60" font-size="4.60px">21</text><text x="-164.60" y="9.80" font-size="10.60px">=</text><text x="-158.00" y="9.80" font-size="10.60px">4</text><text x="-152.60" y="9.80" font-size="10.60px">·</text><text x="-148.60" y="9.80" font-size="10.60px">C</text><text x="-141.10" y="12.30" font-size="6.50px">TRR</text><text x="-139.10" y="3.60" font-size="4.60px">21</text><text x="-127.60" y="9.80" font-size="10.60px">=</text><text x="-121.70" y="9.80" font-size="10.60px">C</text><text x="-114.20" y="12.30" font-size="6.50px">SRR</text><text x="-112.20" y="3.60" font-size="4.60px">12</text><text x="-100.70" y="9.80" font-size="10.60px">=</text><text x="-94.10" y="9.80" font-size="10.60px">4</text><text x="-88.70" y="9.80" font-size="10.60px">·</text><text x="-84.70" y="9.80" font-size="10.60px">C</text><text x="-77.20" y="12.30" font-size="6.50px">TRR</text><text x="-75.20" y="3.60" font-size="4.60px">12</text></g>
<rect x="114.50" y="162.50" width="158.30" height="58.70" rx="1" fill="#f3f3f3" fill-opacity="0.95" stroke="#c6c6c6" stroke-width="1"/>
<line x1="118.25" y1="172.35" x2="137.10" y2="172.35" stroke="#1a1a1a" stroke-width="1.35"/>
<text class="lg" transform="translate(166.60,173.60) scale(0.945,1)" x="0" y="0" fill="#1a1a1a" stroke="#1a1a1a" stroke-width="0.1">SHiP:2× 10<tspan class="sup" dy="-2.7">20</tspan><tspan dy="2.7"> POT</tspan></text>
<line x1="118.25" y1="182.65" x2="137.10" y2="182.65" stroke="#22b8b6" stroke-width="1.35"/>
<text class="lg" transform="translate(166.60,183.90) scale(0.945,1)" x="0" y="0" fill="#22b8b6" stroke="#22b8b6" stroke-width="0.1">ATLAS: 3 ab<tspan class="sup" dy="-2.7">−1</tspan></text>
<line x1="118.25" y1="192.95" x2="137.10" y2="192.95" stroke="#9c249c" stroke-width="1.35"/>
<text class="lg" transform="translate(166.60,194.20) scale(0.945,1)" x="0" y="0" fill="#9c249c" stroke="#9c249c" stroke-width="0.1">AL3X: 250 fb<tspan class="sup" dy="-2.7">−1</tspan></text>
<line x1="118.25" y1="203.30" x2="137.10" y2="203.30" stroke="#2222ff" stroke-width="1.35"/>
<text class="lg" transform="translate(166.60,204.55) scale(0.945,1)" x="0" y="0" fill="#2222ff" stroke="#2222ff" stroke-width="0.1">ANUBIS: 3 ab<tspan class="sup" dy="-2.7">−1</tspan></text>
<line x1="118.25" y1="213.60" x2="137.10" y2="213.60" stroke="#1e9cf0" stroke-width="1.35"/>
<text class="lg" transform="translate(166.60,214.85) scale(0.945,1)" x="0" y="0" fill="#1e9cf0" stroke="#1e9cf0" stroke-width="0.1">CODEX−b: 300 fb<tspan class="sup" dy="-2.7">−1</tspan></text>
<line x1="196.30" y1="172.35" x2="214.80" y2="172.35" stroke="#f47cf2" stroke-width="1.35"/>
<text class="lg" transform="translate(243.00,173.60) scale(0.945,1)" x="0" y="0" fill="#f47cf2" stroke="#f47cf2" stroke-width="0.1">FASER: 150 fb<tspan class="sup" dy="-2.7">−1</tspan></text>
<line x1="196.30" y1="182.65" x2="214.80" y2="182.65" stroke="#c02828" stroke-width="1.35"/>
<text class="lg" transform="translate(243.00,183.90) scale(0.945,1)" x="0" y="0" fill="#c02828" stroke="#c02828" stroke-width="0.1">FASER2: 3 ab<tspan class="sup" dy="-2.7">−1</tspan></text>
<line x1="196.30" y1="192.95" x2="214.80" y2="192.95" stroke="#2dbd2d" stroke-width="1.35"/>
<text class="lg" transform="translate(243.00,194.20) scale(0.945,1)" x="0" y="0" fill="#2dbd2d" stroke="#2dbd2d" stroke-width="0.1">MAPP1: 30 fb<tspan class="sup" dy="-2.7">−1</tspan></text>
<line x1="196.30" y1="203.30" x2="214.80" y2="203.30" stroke="#ff922c" stroke-width="1.35"/>
<text class="lg" transform="translate(243.00,204.55) scale(0.945,1)" x="0" y="0" fill="#ff922c" stroke="#ff922c" stroke-width="0.1">MAPP2: 300 fb<tspan class="sup" dy="-2.7">−1</tspan></text>
<line x1="196.30" y1="213.60" x2="214.80" y2="213.60" stroke="#b3b220" stroke-width="1.35"/>
<text class="lg" transform="translate(243.00,214.85) scale(0.945,1)" x="0" y="0" fill="#b3b220" stroke="#b3b220" stroke-width="0.1">MATHUSLA: 3 ab<tspan class="sup" dy="-2.7">−1</tspan></text>
</svg></body></html>
